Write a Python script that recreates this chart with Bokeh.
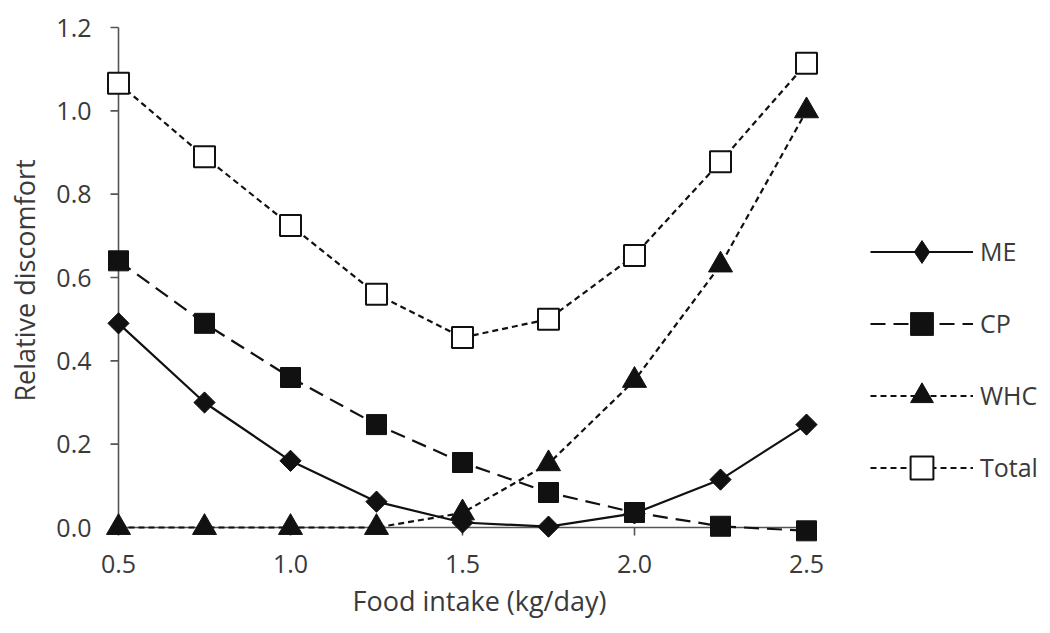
import numpy as np
from bokeh.plotting import figure
from bokeh.models import Range1d, FixedTicker, Legend, LegendItem, PrintfTickFormatter, Title
from bokeh.embed import file_html
from bokeh.resources import INLINE

# ---------------- data ----------------
food_intake = [0.5, 0.75, 1.0, 1.25, 1.5, 1.75, 2.0, 2.25, 2.5]
me = [0.49, 0.30, 0.16, 0.062, 0.012, 0.002, 0.034, 0.115, 0.247]
cp = [0.64, 0.49, 0.36, 0.247, 0.156, 0.084, 0.036, 0.003, -0.008]
whc = [0.0, 0.0, 0.0, 0.0, 0.035, 0.153, 0.353, 0.63, 1.0]
total = [1.066, 0.89, 0.725, 0.56, 0.456, 0.50, 0.653, 0.878, 1.114]
x_ticks = [0.5, 1.0, 1.5, 2.0, 2.5]
y_ticks = [0.0, 0.2, 0.4, 0.6, 0.8, 1.0, 1.2]
series_names = ["ME", "CP", "WHC", "Total"]
x_title = "Food intake (kg/day)"
y_title = "Relative discomfort"

# ---------------- geometry ----------------
W, H = 1050, 633
FL, FR, FT, FB = 96, 1046, 15, 545         # frame edges (px); legend lives inside
X0PX, X1PX = 118, 806                       # px of x_ticks[0], x_ticks[-1]
Y0PX, Y1PX = 527, 27                        # px of y_ticks[0], y_ticks[-1]
xs = (X1PX - X0PX) / (x_ticks[-1] - x_ticks[0])
ys = (Y0PX - Y1PX) / (y_ticks[-1] - y_ticks[0])
x_start = x_ticks[0] - (X0PX - FL) / xs
x_end = x_ticks[-1] + (FR - X1PX) / xs
y_start = y_ticks[0] - (FB - Y0PX) / ys
y_end = y_ticks[-1] + (Y1PX - FT) / ys

FONT = "Open Sans"
TXT = "#3a3a3a"
INK = "#111111"
AXC = "#555555"

p = figure(width=W, height=H, output_backend="svg", toolbar_location=None,
           x_range=Range1d(x_start, x_end), y_range=Range1d(y_start, y_end),
           min_border_left=FL, min_border_right=W - FR,
           min_border_top=FT, min_border_bottom=H - FB,
           background_fill_color="white", border_fill_color="white")
p.outline_line_color = None
p.grid.visible = False

for ax in (p.xaxis[0], p.yaxis[0]):
    ax.axis_line_color = None
    ax.major_tick_line_color = None
    ax.minor_tick_line_color = None
    ax.major_tick_out = 0
    ax.major_tick_in = 0
    ax.major_label_text_font = FONT
    ax.major_label_text_font_size = "25px"
    ax.major_label_text_color = TXT
    ax.axis_label_text_font = FONT
    ax.axis_label_text_font_size = "27px"
    ax.axis_label_text_font_style = "normal"
    ax.axis_label_text_color = TXT
    ax.formatter = PrintfTickFormatter(format="%.1f")

p.xaxis[0].ticker = FixedTicker(ticks=x_ticks)
p.yaxis[0].ticker = FixedTicker(ticks=y_ticks)
p.yaxis[0].axis_label = y_title
p.xaxis[0].major_label_standoff = 9
p.yaxis[0].major_label_standoff = 5
p.yaxis[0].axis_label_standoff = 10

# x-axis title placed under the data area (not the whole frame)
xt = Title(text=x_title, align="left", offset=352 - FL, standoff=9,
           text_font=FONT, text_font_size="27px", text_font_style="normal",
           text_color=TXT)
p.add_layout(xt, "below")

# ---------------- hand-drawn axis lines and ticks ----------------
TICK = 8
p.segment(x0=[x_ticks[0]], y0=[y_ticks[0]], x1=[x_ticks[0]], y1=[y_ticks[-1]],
          line_color=AXC, line_width=1.6)
p.segment(x0=[x_ticks[0]], y0=[y_ticks[0]], x1=[x_ticks[-1] + 4 / xs], y1=[y_ticks[0]],
          line_color=AXC, line_width=1.6)
p.segment(x0=[x_ticks[0] - TICK / xs] * len(y_ticks), y0=y_ticks,
          x1=[x_ticks[0]] * len(y_ticks), y1=y_ticks, line_color=AXC, line_width=1.6)
p.segment(x0=x_ticks, y0=[y_ticks[0]] * len(x_ticks),
          x1=x_ticks, y1=[y_ticks[0] - TICK / ys] * len(x_ticks), line_color=AXC, line_width=1.6)

# ---------------- series ----------------
LW = 2.2
r_tot_l = p.line(food_intake, total, line_color=INK, line_width=LW, line_dash="6 4")
r_whc_l = p.line(food_intake, whc, line_color=INK, line_width=LW, line_dash="6 4")
r_cp_l = p.line(food_intake, cp, line_color=INK, line_width=LW, line_dash="15 8")
r_me_l = p.line(food_intake, me, line_color=INK, line_width=LW)

r_tot_m = p.scatter(food_intake, total, marker="square", size=21, fill_color="white",
                    line_color=INK, line_width=2)
r_whc_m = p.scatter(food_intake, whc, marker="triangle", size=24, fill_color=INK,
                    line_color=INK, line_width=1)
r_cp_m = p.scatter(food_intake, cp, marker="square", size=20, fill_color=INK,
                   line_color=INK, line_width=1)
# diamond glyph (used by the legend) hidden beneath the rotated squares
r_me_d = p.scatter(food_intake, me, marker="diamond", size=20,
                   fill_color=INK, line_color=INK, line_width=1)
r_me_m = p.scatter(food_intake, me, marker="square", angle=np.pi / 4, size=15,
                   fill_color=INK, line_color=INK, line_width=1)

GH = 57
legend = Legend(items=[
    LegendItem(label=series_names[0], renderers=[r_me_l, r_me_d]),
    LegendItem(label=series_names[1], renderers=[r_cp_l, r_cp_m]),
    LegendItem(label=series_names[2], renderers=[r_whc_l, r_whc_m]),
    LegendItem(label=series_names[3], renderers=[r_tot_l, r_tot_m]),
], location=(870 - FL, FB - (467 + GH / 2)))
legend.border_line_color = None
legend.background_fill_alpha = 0
legend.padding = 0
legend.margin = 0
legend.glyph_width = 103
legend.glyph_height = GH
legend.label_height = GH
legend.spacing = 72 - GH
legend.label_standoff = 7
legend.label_text_font = FONT
legend.label_text_font_size = "25px"
legend.label_text_color = TXT
p.add_layout(legend, "center")

open("out.html", "w").write(file_html(p, INLINE))
